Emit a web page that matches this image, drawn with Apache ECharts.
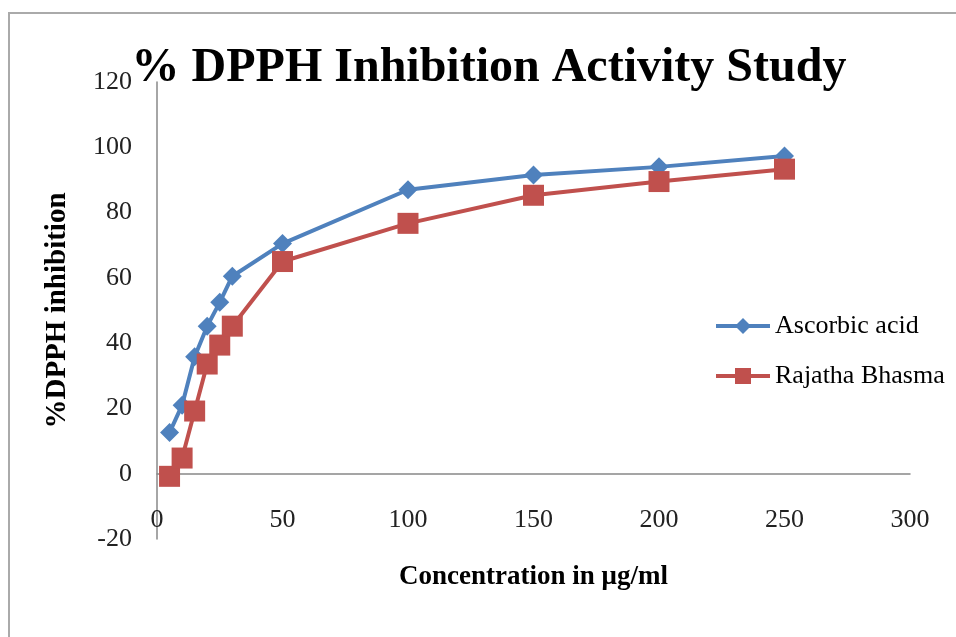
<!DOCTYPE html>
<html>
<head>
<meta charset="utf-8">
<script src="https://cdn.jsdelivr.net/npm/echarts@6/dist/echarts.min.js"></script>
<style>html,body{margin:0;padding:0;background:#fff}#c{width:956px;height:637px}</style>
</head>
<body>
<div id="c"></div>
<script>
var concentrations = [5, 10, 15, 20, 25, 30, 50, 100, 150, 200, 250];
var ascorbicAcid = [12.6, 21, 35.8, 45.2, 52.5, 60.5, 70.5, 87, 91.5, 94, 97.3];
var rajathaBhasma = [-0.8, 4.8, 19.2, 33.6, 39.4, 45.2, 65, 76.7, 85.3, 89.5, 93.3];
var seriesNames = ['Ascorbic acid', 'Rajatha Bhasma'];

function pairs(xs, ys) { return xs.map(function (x, i) { return [x, ys[i]]; }); }

var serif = '"Liberation Serif", "Times New Roman", serif';
var chart = echarts.init(document.getElementById('c'));
chart.setOption({
  animation: false,
  backgroundColor: '#fff',
  graphic: [{
    type: 'polyline', silent: true,
    shape: { points: [[9, 640], [9, 13], [960, 13]] },
    style: { stroke: '#aaa', lineWidth: 2, fill: null }
  }],
  title: {
    text: '% DPPH Inhibition Activity Study',
    left: 484, top: 40, textAlign: 'center',
    textStyle: { fontFamily: serif, fontWeight: 'bold', fontSize: 48, color: '#000' }
  },
  legend: {
    orient: 'vertical', left: 709, top: 308, itemGap: 24,
    itemWidth: 54, itemHeight: 20,
    lineStyle: { width: 4 },
    textStyle: { fontFamily: serif, fontSize: 26, color: '#000', padding: [0, 0, 0, 0] },
    data: seriesNames
  },
  grid: { left: 157, right: 46, top: 82, bottom: 98, containLabel: false, outerBoundsMode: 'none' },
  xAxis: {
    type: 'value', min: 0, max: 300, interval: 50,
    name: 'Concentration in μg/ml', nameLocation: 'middle', nameGap: 25, nameMoveOverlap: false,
    nameTextStyle: { fontFamily: serif, fontWeight: 'bold', fontSize: 27, color: '#000' },
    axisLine: { onZero: true, lineStyle: { color: '#888', width: 1.5 } },
    axisTick: { show: false },
    splitLine: { show: false },
    axisLabel: { margin: -32, fontFamily: serif, fontSize: 26, color: '#222' }
  },
  yAxis: {
    type: 'value', min: -20, max: 120, interval: 20,
    name: '%DPPH inhibition', nameLocation: 'middle', nameGap: 85, nameMoveOverlap: false,
    nameTextStyle: { fontFamily: serif, fontWeight: 'bold', fontSize: 29, color: '#000' },
    axisLine: { show: true, onZero: false, lineStyle: { color: '#888', width: 1.5 } },
    axisTick: { show: false },
    splitLine: { show: false },
    axisLabel: { margin: 25, fontFamily: serif, fontSize: 26, color: '#222' }
  },
  series: [{
    name: seriesNames[0], type: 'line', data: pairs(concentrations, ascorbicAcid),
    symbol: 'diamond', symbolSize: 19, color: '#4F81BD',
    lineStyle: { width: 4, color: '#4F81BD' }, itemStyle: { color: '#4F81BD' }
  }, {
    name: seriesNames[1], type: 'line', data: pairs(concentrations, rajathaBhasma),
    symbol: 'rect', symbolSize: 21, color: '#C0504D',
    lineStyle: { width: 4, color: '#C0504D' }, itemStyle: { color: '#C0504D' }
  }]
});
</script>
</body>
</html>
